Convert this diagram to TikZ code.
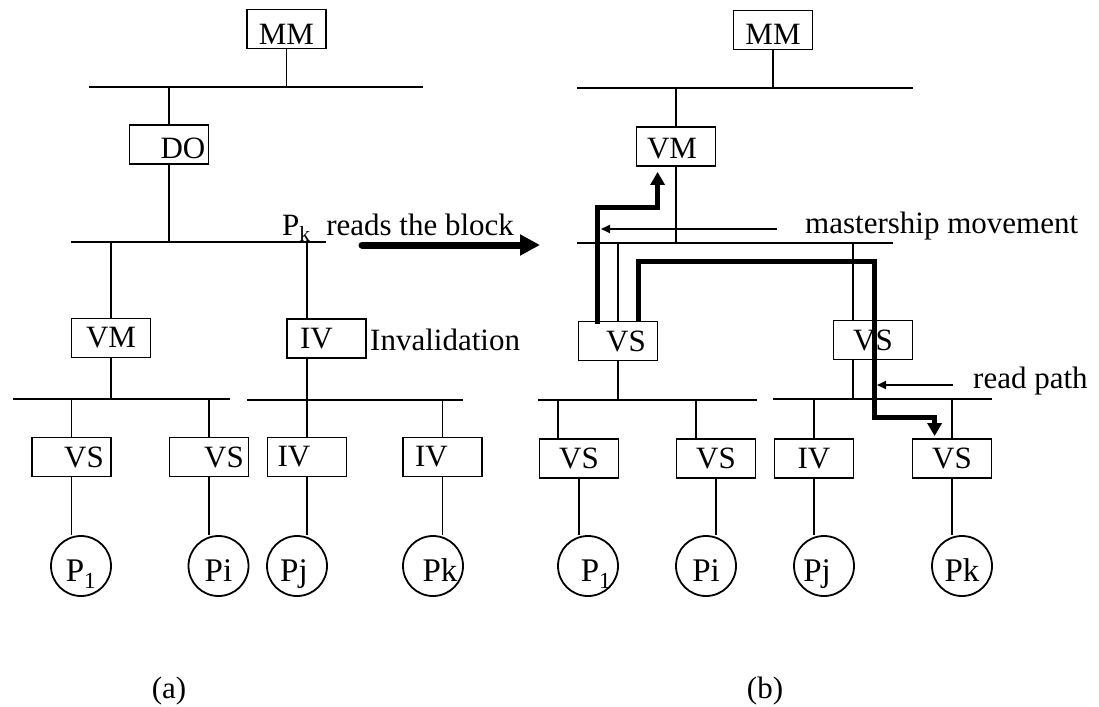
\documentclass[tikz,border=0pt]{standalone}
\usepackage{fontspec}
\setmainfont{Liberation Serif}
\usetikzlibrary{arrows.meta,calc}
\begin{document}
\begin{tikzpicture}[x=1pt,y=-1pt,
  txt/.style={font=\fontsize{31}{37}\selectfont, inner sep=0pt},
  box/.style={draw, line width=1.8pt, minimum width=79pt, minimum height=39pt, inner sep=0pt, font=\fontsize{31}{37}\selectfont},
  proc/.style={draw, circle, line width=1.8pt, minimum size=60pt, inner sep=0pt, text height=31pt, text depth=0pt, font=\fontsize{33}{39}\selectfont},
  wire/.style={line width=1.8pt},
  heavy/.style={line width=4.5pt},
  bigtip/.style={-{Triangle[length=13pt,width=14pt]}},
  smalltip/.style={-{Triangle[length=9pt,width=8pt]}}
]
\useasboundingbox (0,0) rectangle (1099,706);

% ================= (a) =================
\coordinate (a0l) at (89,87);   \coordinate (a0r) at (423,87);
\coordinate (a1l) at (71,242);  \coordinate (a1r) at (326,242);
\coordinate (a2ll) at (13,399); \coordinate (a2lr) at (230,399);
\coordinate (a2rl) at (247,400);\coordinate (a2rr) at (463,400);
\draw[wire] (a0l) -- (a0r);
\draw[wire] (a1l) -- (a1r);
\draw[wire] (a2ll) -- (a2lr);
\draw[wire] (a2rl) -- (a2rr);

\node[box, text height=31pt, text depth=0pt] (mmA) at (286.5,29) {MM};
\node[box, text height=27pt, text depth=0pt] (doA) at (169,144.5) {\hspace*{28pt}DO};
\node[box] (vmA) at (111,338) {VM};
\node[box] (ivA) at (326.5,338.5) {IV\hspace*{20pt}};
\node[box] (vsA1) at (71.5,457) {\hspace*{25pt}VS};
\node[box] (vsA2) at (209,457) {\hspace*{30pt}VS};
\node[box] (ivA1) at (307,457) {IV\hspace*{26pt}};
\node[box] (ivA2) at (442.5,457) {IV\hspace*{22pt}};
\node[proc] (pA1) at (81,566) {P\textsubscript{1}};
\node[proc] (pAi) at (218.5,566) {Pi};
\node[proc] (pAj) at (297,566) {Pj\hspace*{6pt}};
\node[proc] (pAk) at (433,566) {\hspace*{14pt}Pk};

\draw[wire] (mmA.south) -- (mmA.south |- a0l);
\draw[wire] (doA.north |- a0l) -- (doA.north);
\draw[wire] (doA.south) -- (doA.south |- a1l);
\draw[wire] (vmA.north |- a1l) -- (vmA.north);
\coordinate (ivAt) at ([xshift=-19.5pt]ivA.north);
\coordinate (ivAb) at ([xshift=-19.5pt]ivA.south);
\draw[wire] (ivAt |- a1l) -- (ivAt);
\draw[wire] (vmA.south) -- (vmA.south |- a2ll);
\draw[wire] (ivAb) -- (ivAb |- a2rl);
\draw[wire] (vsA1.north |- a2ll) -- (vsA1.north);
\draw[wire] (vsA2.north |- a2ll) -- (vsA2.north);
\draw[wire] (ivA1.north |- a2rl) -- (ivA1.north);
\draw[wire] (ivA2.north |- a2rl) -- (ivA2.north);
\draw[wire] (vsA1.south) -- (vsA1.south |- pA1.north);
\draw[wire] (vsA2.south) -- (vsA2.south |- pAi.north);
\draw[wire] (ivA1.south) -- (ivA1.south |- pAj.north);
\draw[wire] (ivA2.south) -- (ivA2.south |- pAk.north);

\node[txt, anchor=base west] (rdlbl) at (282,235) {P\textsubscript{k}\ \ reads the block};
\node[txt, anchor=base west] (invlbl) at (370,350) {Invalidation};
\node[txt] (capA) at (169,691) {(a)};

\coordinate (ra0) at (362,245);
\coordinate (ra1) at (540,245);
\draw[line width=7pt, line cap=round, -{Triangle[length=20pt,width=20pt]}] (ra0) -- (ra1);

% ================= (b) =================
\coordinate (b0l) at (577,88);  \coordinate (b0r) at (913,88);
\coordinate (b1l) at (577,243); \coordinate (b1r) at (893,243);
\coordinate (b2ll) at (538,400);\coordinate (b2lr) at (757,400);
\coordinate (b2rl) at (773,399);\coordinate (b2rr) at (992,399);
\draw[wire] (b0l) -- (b0r);
\draw[wire] (b1l) -- (b1r);
\draw[wire] (b2ll) -- (b2lr);
\draw[wire] (b2rl) -- (b2rr);

\node[box, text height=30pt, text depth=0pt] (mmB) at (773,30) {MM};
\node[box, text height=23pt, text depth=0pt] (vmB) at (676,146.5) {VM\hspace*{8pt}};
\node[box] (vsB1) at (618,341) {\hspace*{16pt}VS};
\node[box] (vsB2) at (873,340) {VS};
\node[box] (vsB3) at (579,458.5) {VS};
\node[box] (vsB4) at (716,458.5) {VS};
\node[box] (ivB) at (814,458.5) {IV};
\node[box] (vsB5) at (952,458.5) {VS};
\node[proc] (pB1) at (588,566) {\hspace*{16pt}P\textsubscript{1}};
\node[proc] (pBi) at (706,566) {Pi};
\node[proc] (pBj) at (824,566) {Pj\hspace*{14pt}};
\node[proc] (pBk) at (962,566) {Pk};

\draw[wire] (mmB.south) -- (mmB.south |- b0l);
\draw[wire] (vmB.north |- b0l) -- (vmB.north);
\draw[wire] (vmB.south) -- (vmB.south |- b1l);
\draw[wire] (vsB1.north |- b1l) -- (vsB1.north);
\draw[wire] (vsB1.south) -- (vsB1.south |- b2ll);
\coordinate (vsB2t) at ([xshift=-20pt]vsB2.north);
\coordinate (vsB2b) at ([xshift=-20pt]vsB2.south);
\draw[wire] (vsB2t |- b1l) -- (vsB2t);
\draw[wire] (vsB2b) -- (vsB2b |- b2rl);
\coordinate (vsB3t) at ([xshift=-21pt]vsB3.north);
\coordinate (vsB4t) at ([xshift=-20pt]vsB4.north);
\draw[wire] (vsB3t |- b2ll) -- (vsB3t);
\draw[wire] (vsB4t |- b2ll) -- (vsB4t);
\draw[wire] (ivB.north |- b2rl) -- (ivB.north);
\draw[wire] (vsB5.north |- b2rl) -- (vsB5.north);
\draw[wire] (vsB3.south) -- (vsB3.south |- pB1.north);
\draw[wire] (vsB4.south) -- (vsB4.south |- pBi.north);
\draw[wire] (ivB.south) -- (ivB.south |- pBj.north);
\draw[wire] (vsB5.south) -- (vsB5.south |- pBk.north);

% mastership movement path
\coordinate (m0) at ($(vsB1.north west)+(20,3)$);
\coordinate (m1) at ($(vmB.south west)+(22,5)$);
\draw[heavy, bigtip] (m0) -- ++(0,-116) -| (m1);

% read path
\coordinate (r0) at ($(vsB1.north east)+(-20,0)$);
\coordinate (r1) at ($(vsB5.north west)+(23,-2)$);
\draw[heavy, bigtip] (r0) -- ++(0,-59) -- ++(236,0) -- ++(0,156) -| (r1);

% thin pointer arrows
\coordinate (mm0) at (777,229);
\coordinate (mm1) at (601,229);
\draw[wire, smalltip] (mm0) -- (mm1);
\coordinate (rp0) at (953,385);
\coordinate (rp1) at (877,385);
\draw[wire, smalltip] (rp0) -- (rp1);

\node[txt, anchor=base west] (mslbl) at (805,233) {mastership movement};
\node[txt, anchor=base west] (rplbl) at (973,388) {read path};
\node[txt] (capB) at (765,691) {(b)};
\end{tikzpicture}
\end{document}
